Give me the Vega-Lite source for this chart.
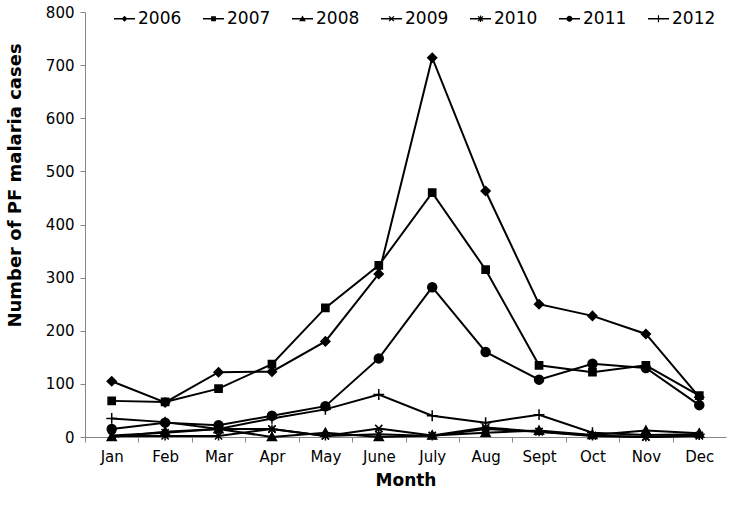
{
  "$schema": "https://vega.github.io/schema/vega-lite/v6.json",
  "width": 641,
  "height": 425,
  "autosize": "none",
  "padding": {"left": 85, "top": 12, "right": 6, "bottom": 73},
  "background": "white",
  "config": {"font": "DejaVu Sans", "view": {"stroke": null}},
  "data": {"values": [
    {"year": "2006", "month": "Jan", "cases": 105},
    {"year": "2006", "month": "Feb", "cases": 65},
    {"year": "2006", "month": "Mar", "cases": 122},
    {"year": "2006", "month": "Apr", "cases": 123},
    {"year": "2006", "month": "May", "cases": 180},
    {"year": "2006", "month": "June", "cases": 307},
    {"year": "2006", "month": "July", "cases": 714},
    {"year": "2006", "month": "Aug", "cases": 463},
    {"year": "2006", "month": "Sept", "cases": 250},
    {"year": "2006", "month": "Oct", "cases": 228},
    {"year": "2006", "month": "Nov", "cases": 194},
    {"year": "2006", "month": "Dec", "cases": 75},
    {"year": "2007", "month": "Jan", "cases": 68},
    {"year": "2007", "month": "Feb", "cases": 66},
    {"year": "2007", "month": "Mar", "cases": 91},
    {"year": "2007", "month": "Apr", "cases": 137},
    {"year": "2007", "month": "May", "cases": 243},
    {"year": "2007", "month": "June", "cases": 323},
    {"year": "2007", "month": "July", "cases": 460},
    {"year": "2007", "month": "Aug", "cases": 315},
    {"year": "2007", "month": "Sept", "cases": 135},
    {"year": "2007", "month": "Oct", "cases": 122},
    {"year": "2007", "month": "Nov", "cases": 135},
    {"year": "2007", "month": "Dec", "cases": 78},
    {"year": "2008", "month": "Jan", "cases": 0},
    {"year": "2008", "month": "Feb", "cases": 10},
    {"year": "2008", "month": "Mar", "cases": 15},
    {"year": "2008", "month": "Apr", "cases": 0},
    {"year": "2008", "month": "May", "cases": 8},
    {"year": "2008", "month": "June", "cases": 0},
    {"year": "2008", "month": "July", "cases": 3},
    {"year": "2008", "month": "Aug", "cases": 8},
    {"year": "2008", "month": "Sept", "cases": 12},
    {"year": "2008", "month": "Oct", "cases": 4},
    {"year": "2008", "month": "Nov", "cases": 12},
    {"year": "2008", "month": "Dec", "cases": 7},
    {"year": "2009", "month": "Jan", "cases": 3},
    {"year": "2009", "month": "Feb", "cases": 8},
    {"year": "2009", "month": "Mar", "cases": 15},
    {"year": "2009", "month": "Apr", "cases": 15},
    {"year": "2009", "month": "May", "cases": 2},
    {"year": "2009", "month": "June", "cases": 16},
    {"year": "2009", "month": "July", "cases": 3},
    {"year": "2009", "month": "Aug", "cases": 18},
    {"year": "2009", "month": "Sept", "cases": 10},
    {"year": "2009", "month": "Oct", "cases": 3},
    {"year": "2009", "month": "Nov", "cases": 0},
    {"year": "2009", "month": "Dec", "cases": 2},
    {"year": "2010", "month": "Jan", "cases": 2},
    {"year": "2010", "month": "Feb", "cases": 2},
    {"year": "2010", "month": "Mar", "cases": 2},
    {"year": "2010", "month": "Apr", "cases": 15},
    {"year": "2010", "month": "May", "cases": 2},
    {"year": "2010", "month": "June", "cases": 5},
    {"year": "2010", "month": "July", "cases": 2},
    {"year": "2010", "month": "Aug", "cases": 15},
    {"year": "2010", "month": "Sept", "cases": 10},
    {"year": "2010", "month": "Oct", "cases": 2},
    {"year": "2010", "month": "Nov", "cases": 0},
    {"year": "2010", "month": "Dec", "cases": 3},
    {"year": "2011", "month": "Jan", "cases": 15},
    {"year": "2011", "month": "Feb", "cases": 27},
    {"year": "2011", "month": "Mar", "cases": 22},
    {"year": "2011", "month": "Apr", "cases": 40},
    {"year": "2011", "month": "May", "cases": 58},
    {"year": "2011", "month": "June", "cases": 148},
    {"year": "2011", "month": "July", "cases": 282},
    {"year": "2011", "month": "Aug", "cases": 160},
    {"year": "2011", "month": "Sept", "cases": 108},
    {"year": "2011", "month": "Oct", "cases": 138},
    {"year": "2011", "month": "Nov", "cases": 130},
    {"year": "2011", "month": "Dec", "cases": 60},
    {"year": "2012", "month": "Jan", "cases": 35},
    {"year": "2012", "month": "Feb", "cases": 28},
    {"year": "2012", "month": "Mar", "cases": 15},
    {"year": "2012", "month": "Apr", "cases": 35},
    {"year": "2012", "month": "May", "cases": 52},
    {"year": "2012", "month": "June", "cases": 80},
    {"year": "2012", "month": "July", "cases": 40},
    {"year": "2012", "month": "Aug", "cases": 27},
    {"year": "2012", "month": "Sept", "cases": 42},
    {"year": "2012", "month": "Oct", "cases": 8},
    {"year": "2012", "month": "Nov", "cases": 4},
    {"year": "2012", "month": "Dec", "cases": 5}
  ]},
  "encoding": {
    "x": {
      "field": "month", "type": "ordinal",
      "sort": ["Jan", "Feb", "Mar", "Apr", "May", "June", "July", "Aug", "Sept", "Oct", "Nov", "Dec"],
      "scale": {"type": "point", "padding": 0.5},
      "axis": {
        "title": "Month", "titleFontSize": 17, "titleFontWeight": "bold", "titleColor": "black", "titlePadding": 8,
        "labelFontSize": 15, "labelColor": "black", "labelAngle": 0, "labelPadding": 7, "labelOffset": 26.7,
        "tickSize": 5, "tickOffset": -26.7, "tickColor": "#868686", "domainColor": "#868686", "grid": false
      }
    },
    "y": {
      "field": "cases", "type": "quantitative",
      "scale": {"domain": [0, 800], "nice": false},
      "axis": {
        "title": "Number of PF malaria cases", "titleFontSize": 18, "titleFontWeight": "bold", "titleColor": "black",
        "titleX": -70, "titleY": 173, "titleAngle": -90, "titleBaseline": "middle", "titleAlign": "center",
        "values": [0, 100, 200, 300, 400, 500, 600, 700, 800],
        "labelFontSize": 15, "labelColor": "black", "labelPadding": 6,
        "tickSize": 5, "tickColor": "#868686", "domainColor": "#868686", "grid": false
      }
    }
  },
  "resolve": {"scale": {"shape": "independent"}, "legend": {"shape": "independent"}},
  "layer": [
    {
      "mark": {"type": "line", "color": "black", "strokeWidth": 2},
      "encoding": {"detail": {"field": "year", "type": "nominal"}}
    },
    {
      "mark": {"type": "point", "filled": true, "fill": "black", "stroke": "black", "strokeWidth": 1.5, "size": 81, "opacity": 1},
      "encoding": {
        "shape": {
          "field": "year", "type": "nominal", "legend": null,
          "scale": {
            "domain": ["2006", "2007", "2008", "2009", "2010", "2011", "2012"],
            "range": [
              "M0,-1L1,0L0,1L-1,0Z",
              "M-0.8,-0.8L0.8,-0.8L0.8,0.8L-0.8,0.8Z",
              "M0,-1L1,0.8L-1,0.8Z",
              "M-0.8,-0.8L0.8,0.8M-0.8,0.8L0.8,-0.8",
              "M-0.8,-0.8L0.8,0.8M-0.8,0.8L0.8,-0.8M0,-1L0,1",
              "M1,0A1,1,0,1,1,-1,0A1,1,0,1,1,1,0Z",
              "M-1.2,0L1.2,0M0,-1.2L0,1.2"
            ]
          }
        }
      }
    },
    {
      "mark": {"type": "point", "filled": true, "color": "black", "opacity": 0, "size": 36},
      "encoding": {
        "shape": {
          "field": "year", "type": "nominal",
          "scale": {
            "domain": ["2006", "2007", "2008", "2009", "2010", "2011", "2012"],
            "range": [
              "M0,-1L1,0L0,1L-1,0Z M-3.5,-0.25L3.5,-0.25L3.5,0.25L-3.5,0.25Z",
              "M-0.8,-0.8L0.8,-0.8L0.8,0.8L-0.8,0.8Z M-3.5,-0.25L3.5,-0.25L3.5,0.25L-3.5,0.25Z",
              "M0,-1.1L1.1,0.8L-1.1,0.8Z M-3.5,-0.25L3.5,-0.25L3.5,0.25L-3.5,0.25Z",
              "M-0.65,-0.95L0.95,0.65L0.65,0.95L-0.95,-0.65Z M-0.65,0.95L-0.95,0.65L0.65,-0.95L0.95,-0.65Z M-3.5,-0.25L3.5,-0.25L3.5,0.25L-3.5,0.25Z",
              "M-0.65,-0.95L0.95,0.65L0.65,0.95L-0.95,-0.65Z M-0.65,0.95L-0.95,0.65L0.65,-0.95L0.95,-0.65Z M-0.2,-1.1L0.2,-1.1L0.2,1.1L-0.2,1.1Z M-3.5,-0.25L3.5,-0.25L3.5,0.25L-3.5,0.25Z",
              "M1,0A1,1,0,1,1,-1,0A1,1,0,1,1,1,0Z M-3.5,-0.25L3.5,-0.25L3.5,0.25L-3.5,0.25Z",
              "M-0.2,-1.2L0.2,-1.2L0.2,1.2L-0.2,1.2Z M-3.5,-0.25L3.5,-0.25L3.5,0.25L-3.5,0.25Z"
            ]
          },
          "legend": {
            "title": null, "orient": "none", "direction": "horizontal",
            "legendX": 31, "legendY": -2, "padding": 0,
            "labelFontSize": 17, "labelColor": "black", "labelOffset": 5, "columnPadding": 21,
            "symbolSize": 36, "symbolOpacity": 1, "symbolFillColor": "black", "symbolStrokeWidth": 0
          }
        }
      }
    }
  ]
}
